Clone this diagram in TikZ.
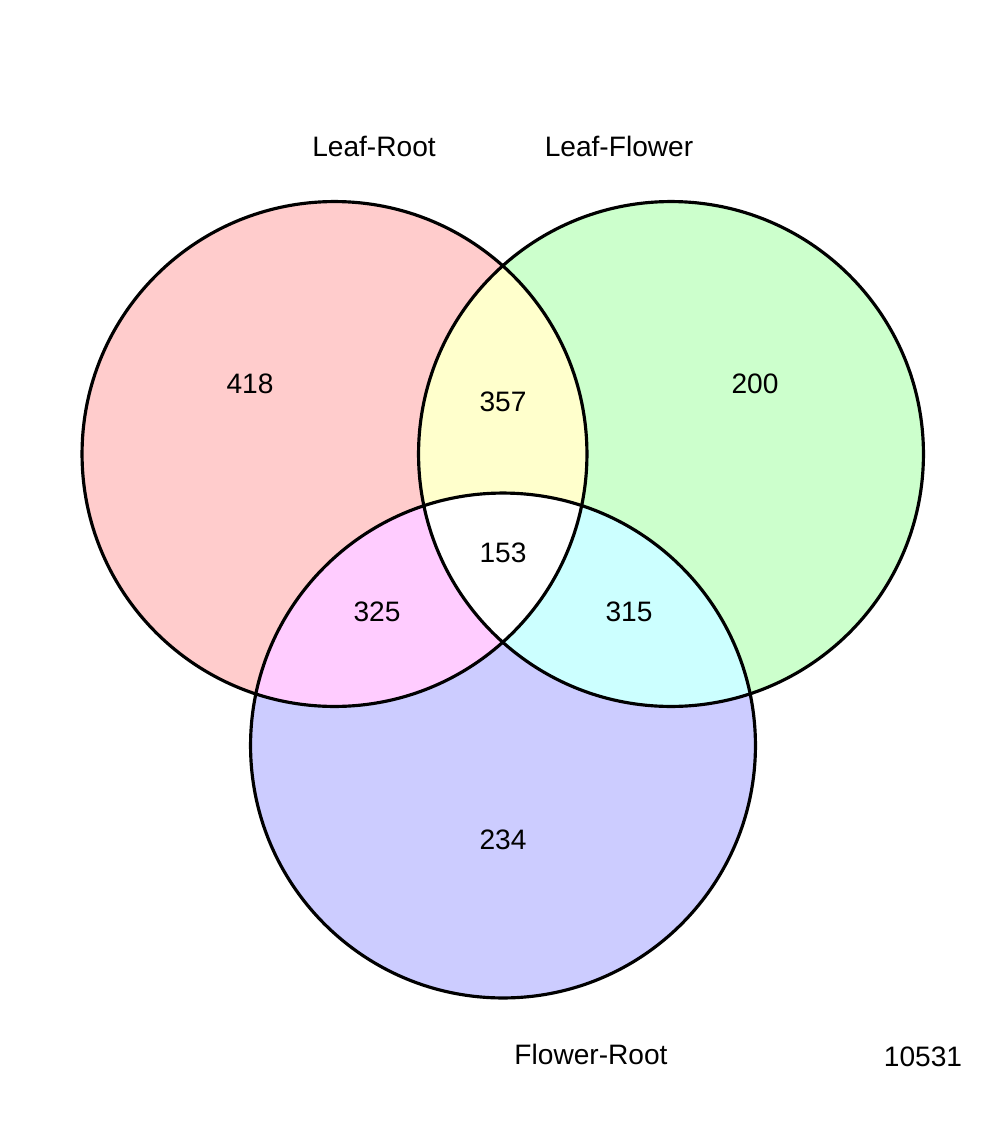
\documentclass[tikz,border=0pt]{standalone}
\usepackage{fontspec}
\setmainfont{Liberation Sans}
\usetikzlibrary{positioning}
\definecolor{lr}{HTML}{FFCCCC}
\definecolor{lf}{HTML}{CCFFCC}
\definecolor{fr}{HTML}{CCCCFF}
\definecolor{lrlf}{HTML}{FFFFCC}
\definecolor{lrfr}{HTML}{FFCCFF}
\definecolor{lffr}{HTML}{CCFFFF}
\tikzset{
  ring/.style={draw=black, line width=1.8pt},
  setlbl/.style={font=\fontsize{16}{19}\selectfont, text=black, inner sep=0pt},
  cnt/.style={setlbl}
}
\newcommand{\vr}{5.05cm}

\begin{document}
\begin{tikzpicture}[x=0.02cm, y=-0.02cm]

% ── Canvas ────────────────────────────────────────────────────────
\useasboundingbox (0,0) rectangle (1002,1136);
\fill[white] (0,0) rectangle (1002,1136);

% ── Circle centres ────────────────────────────────────────────────
\coordinate (cL) at (334.5, 454);
\coordinate (cR) at (671, 454);
\coordinate (cB) at (503, 745.5);

% ── Single-set fills ──────────────────────────────────────────────
\fill[lr] (cL) circle[radius=\vr];
\fill[lf] (cR) circle[radius=\vr];
\fill[fr] (cB) circle[radius=\vr];

% ── Pairwise overlaps ─────────────────────────────────────────────
\begin{scope}
  \clip (cL) circle[radius=\vr];
  \fill[lrlf] (cR) circle[radius=\vr];
  \fill[lrfr] (cB) circle[radius=\vr];
\end{scope}
\begin{scope}
  \clip (cR) circle[radius=\vr];
  \fill[lffr] (cB) circle[radius=\vr];
\end{scope}

% ── Triple overlap ────────────────────────────────────────────────
\begin{scope}
  \clip (cL) circle[radius=\vr];
  \clip (cR) circle[radius=\vr];
  \fill[white] (cB) circle[radius=\vr];
\end{scope}

% ── Outlines ──────────────────────────────────────────────────────
\draw[ring] (cL) circle[radius=\vr];
\draw[ring] (cR) circle[radius=\vr];
\draw[ring] (cB) circle[radius=\vr];

% ── Set names ─────────────────────────────────────────────────────
\node[setlbl] (nLR) at (374, 146) {Leaf-Root};
\node[setlbl] (nLF) at (619, 146) {Leaf-Flower};
\node[setlbl] (nFR) at (591, 1054) {Flower-Root};
\node[setlbl] (nTot) at (923, 1057) {10531};

% ── Region counts ─────────────────────────────────────────────────
\node[cnt] (kL)   at (250, 384) {418};
\node[cnt] (kLR)  at (503, 402) {357};
\node[cnt] (kR)   at (755, 384) {200};
\node[cnt] (kLRB) at (503, 553) {153};
\node[cnt] (kLB)  at (377, 612) {325};
\node[cnt] (kRB)  at (629, 612) {315};
\node[cnt] (kB)   at (503, 840) {234};

\end{tikzpicture}
\end{document}
